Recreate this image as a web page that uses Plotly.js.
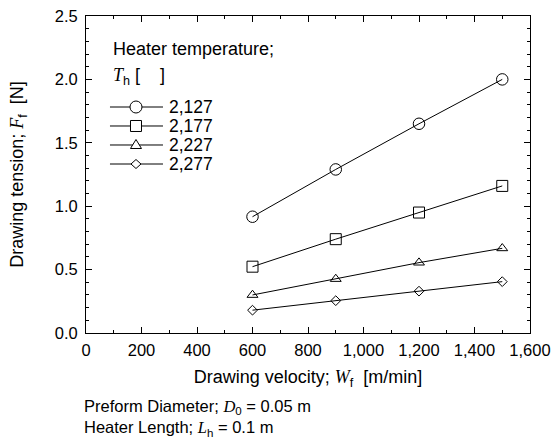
<!DOCTYPE html>
<html>
<head>
<meta charset="utf-8">
<script src="https://cdn.plot.ly/plotly-3.0.1.min.js"></script>
<style>html,body{margin:0;padding:0;background:#fff;}#chart{width:555px;height:444px;}</style>
</head>
<body>
<div id="chart"></div>
<script>
var velocity = [600, 900, 1200, 1500];
var seriesNames = ["2,127", "2,177", "2,227", "2,277"];
var tension2127 = [0.917, 1.29, 1.65, 2.0];
var tension2177 = [0.523, 0.74, 0.95, 1.16];
var tension2227 = [0.30, 0.426, 0.555, 0.668];
var tension2277 = [0.18, 0.255, 0.33, 0.405];
var xTickVals = [0, 200, 400, 600, 800, 1000, 1200, 1400, 1600];
var xTickText = ["0", "200", "400", "600", "800", "1,000", "1,200", "1,400", "1,600"];
var yTickVals = [0, 0.5, 1.0, 1.5, 2.0, 2.5];
var yTickText = ["0.0", "0.5", "1.0", "1.5", "2.0", "2.5"];

var symbols = ["circle-open", "square-open", "triangle-up-open", "diamond-open"];
var sizes = [11.5, 11, 9.5, 7.5];
var data = [tension2127, tension2177, tension2227, tension2277].map(function (vals, i) {
  return {
    x: velocity, y: vals, name: seriesNames[i], type: "scatter", mode: "lines+markers",
    line: {color: "#000", width: 1},
    marker: {symbol: symbols[i], size: sizes[i], color: "#000", line: {width: 1, color: "#000"}},
    showlegend: false
  };
});

var ital = function (s) { return '<span style="font-family:Liberation Serif;font-style:italic">' + s + '</span>'; };
var FONT = "Liberation Sans, Arial, sans-serif";
var BIG = 18;

// hand-drawn legend (paper coordinates)
var legX0 = 0.054, legX1 = 0.1734, legMx = 0.1126, legTx = 0.1847;
var legRows = [0.7129, 0.653, 0.5931, 0.5331];
var markerPaths = [
  null,
  null,
  "M-5.5,-3.5 L5.5,-3.5 L0,5.5 Z",
  "M-5,0 L0,4.5 L5,0 L0,-4.5 Z"
];
var shapes = [];
var annotations = [];
legRows.forEach(function (yy, i) {
  shapes.push({type: "line", xref: "paper", yref: "paper", x0: legX0, x1: legX1, y0: yy, y1: yy,
               line: {color: "#000", width: 1}});
  var base = {xref: "paper", yref: "paper", xsizemode: "pixel", ysizemode: "pixel",
              xanchor: legMx, yanchor: yy, fillcolor: "#fff", line: {color: "#000", width: 1}};
  var s = Object.assign({}, base);
  if (i === 0) { s.type = "circle"; s.x0 = -6; s.x1 = 6; s.y0 = -6; s.y1 = 6; }
  else if (i === 1) { s.type = "rect"; s.x0 = -5.5; s.x1 = 5.5; s.y0 = -5.5; s.y1 = 5.5; }
  else { s.type = "path"; s.path = markerPaths[i]; }
  shapes.push(s);
  annotations.push({xref: "paper", yref: "paper", x: legTx, y: yy, xanchor: "left", yanchor: "middle",
                    showarrow: false, borderpad: 0, text: seriesNames[i],
                    font: {family: FONT, size: 17.5, color: "#000"}});
});

annotations.push(
  {xref: "paper", yref: "paper", x: 0.0563, y: 0.896, xanchor: "left", yanchor: "middle", showarrow: false,
   text: "Heater temperature;", font: {family: FONT, size: BIG, color: "#000"}},
  {xref: "paper", yref: "paper", x: 0.0563, y: 0.81, xanchor: "left", yanchor: "middle", showarrow: false,
   text: ital('T') + '<sub>h</sub> [    ]', font: {family: FONT, size: BIG, color: "#000"}},
  {xref: "paper", yref: "paper", x: -0.01, y: -0.268, xanchor: "left", yanchor: "middle", align: "left", showarrow: false,
   text: 'Preform Diameter; ' + ital('D') + '<sub>0</sub> = 0.05 m<br>Heater Length; ' + ital('L') + '<sub>h</sub> = 0.1 m',
   font: {family: FONT, size: 16.5, color: "#000"}}
);

var layout = {
  width: 555, height: 444,
  margin: {l: 86, r: 25, t: 16, b: 111},
  paper_bgcolor: "#fff", plot_bgcolor: "#fff",
  font: {family: FONT, size: 16, color: "#000"},
  showlegend: false,
  xaxis: {
    range: [0, 1600], tickvals: xTickVals, ticktext: xTickText,
    ticks: "inside", ticklen: 6, tickwidth: 1, tickcolor: "#000",
    minor: {dtick: 100, ticks: "inside", ticklen: 3, tickcolor: "#000", tickwidth: 1},
    showline: true, linecolor: "#000", linewidth: 1, mirror: "ticks",
    showgrid: false, zeroline: false, ticklabelstandoff: 2,
    tickfont: {family: FONT, size: 16.5, color: "#000"},
    title: {text: 'Drawing velocity; ' + ital('W') + '<sub>f</sub>  [m/min]', font: {family: FONT, size: BIG, color: "#000"}, standoff: 12}
  },
  yaxis: {
    range: [0, 2.5], tickvals: yTickVals, ticktext: yTickText,
    ticks: "inside", ticklen: 6, tickwidth: 1, tickcolor: "#000",
    minor: {dtick: 0.1, ticks: "inside", ticklen: 3, tickcolor: "#000", tickwidth: 1},
    showline: true, linecolor: "#000", linewidth: 1, mirror: "ticks",
    showgrid: false, zeroline: false, ticklabelstandoff: 4,
    tickfont: {family: FONT, size: 16.5, color: "#000"},
    title: {text: 'Drawing tension; ' + ital('F') + '<sub>f</sub>  [N]', font: {family: FONT, size: BIG, color: "#000"}, standoff: 26}
  },
  shapes: shapes,
  annotations: annotations
};

Plotly.newPlot("chart", data, layout, {displayModeBar: false, staticPlot: true});
</script>
</body>
</html>
